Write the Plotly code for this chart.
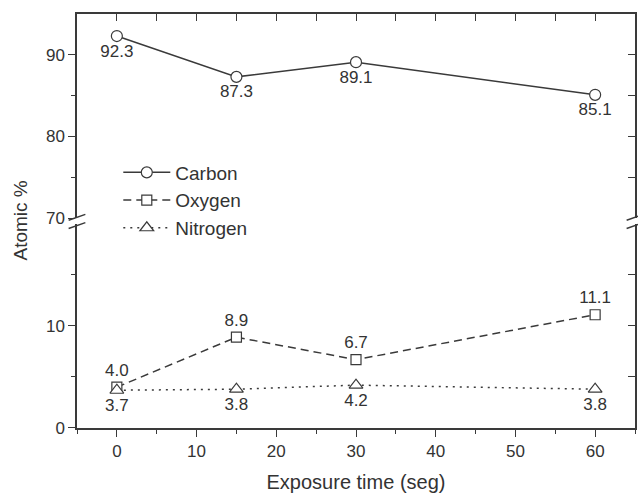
import plotly.graph_objects as go

time_s = [0, 15, 30, 60]
carbon = [92.3, 87.3, 89.1, 85.1]
oxygen = [4.0, 8.9, 6.7, 11.1]
nitrogen = [3.7, 3.8, 4.2, 3.8]

LINE = "#3a3a3a"
TXT = "#333333"
FONT = "Arial, Liberation Sans, sans-serif"

fig = go.Figure()

fig.add_trace(go.Scatter(
    x=time_s, y=carbon, name="Carbon", xaxis="x3", yaxis="y2",
    mode="lines+markers+text", text=[f"{v:.1f}" for v in carbon],
    textposition="bottom center", textfont=dict(size=17, color=TXT),
    line=dict(color=LINE, width=1.5, dash="solid"),
    marker=dict(symbol="circle", size=11, color="white", line=dict(color=LINE, width=1.2)),
))
fig.add_trace(go.Scatter(
    x=time_s, y=oxygen, name="Oxygen", xaxis="x", yaxis="y",
    mode="lines+markers+text", text=[f"{v:.1f}" for v in oxygen],
    textposition="top center", textfont=dict(size=17, color=TXT),
    line=dict(color=LINE, width=1.5, dash="8px,5px"),
    marker=dict(symbol="square", size=10, color="white", line=dict(color=LINE, width=1.2)),
))
fig.add_trace(go.Scatter(
    x=time_s, y=nitrogen, name="Nitrogen", xaxis="x", yaxis="y",
    mode="lines+markers+text", text=[f"{v:.1f}" for v in nitrogen],
    textposition="bottom center", textfont=dict(size=17, color=TXT),
    line=dict(color=LINE, width=1.5, dash="2px,5px"),
    marker=dict(symbol="triangle-up", size=12, color="white", line=dict(color=LINE, width=1.2)),
))

# invisible traces so the right-hand inside-tick axes are drawn
fig.add_trace(go.Scatter(x=[30], y=[80], xaxis="x3", yaxis="y4", mode="markers",
                         marker=dict(opacity=0), showlegend=False, hoverinfo="skip"))
fig.add_trace(go.Scatter(x=[30], y=[10], xaxis="x", yaxis="y3", mode="markers",
                         marker=dict(opacity=0), showlegend=False, hoverinfo="skip"))

LOW_TOP = 0.493
UP_BOT = 0.507

common = dict(showline=True, linecolor=LINE, linewidth=1.5, showgrid=False, zeroline=False,
              tickcolor=LINE, automargin=False, tickfont=dict(size=17, color=TXT, family=FONT))
mirror = dict(showline=False, showgrid=False, zeroline=False,
              ticks="inside", ticklen=7, tickwidth=1.2, tickcolor=LINE,
              showticklabels=False, automargin=False)

fig.update_layout(
    width=638, height=495,
    margin=dict(l=77, r=3, t=14, b=67),
    paper_bgcolor="white", plot_bgcolor="white",
    font=dict(family=FONT, color=TXT),
    showlegend=True,
    legend=dict(x=0.074, y=0.663, xanchor="left", yanchor="top",
                font=dict(size=19, color=TXT), bgcolor="rgba(0,0,0,0)",
                itemwidth=47, tracegroupgap=0),
    xaxis=dict(**common, range=[-5, 65], dtick=10, tick0=0, ticks="outside", ticklen=7,
               anchor="y", domain=[0, 1],
               minor=dict(dtick=5, ticks="outside", ticklen=4, tickcolor=LINE),
               title=dict(text="Exposure time (seg)", font=dict(size=20, color=TXT), standoff=15)),
    xaxis3=dict(showline=True, linecolor=LINE, linewidth=1.5, showgrid=False, zeroline=False,
                ticks="inside", ticklen=7, tickwidth=1.2, tickcolor=LINE,
                showticklabels=False, automargin=False,
                range=[-5, 65], dtick=5, tick0=0, matches="x",
                anchor="y2", side="top", domain=[0, 1]),
    yaxis=dict(**common, mirror=True, range=[0, 20], tickvals=[0, 10], ticks="outside", ticklen=7,
               domain=[0, LOW_TOP], anchor="x",
               minor=dict(tickvals=[5, 15], ticks="outside", ticklen=4, tickcolor=LINE)),
    yaxis2=dict(**common, mirror=True, range=[70, 95], tickvals=[70, 80, 90], ticks="outside", ticklen=7,
                domain=[UP_BOT, 1], anchor="x3",
                minor=dict(tickvals=[75, 85], ticks="outside", ticklen=4, tickcolor=LINE)),
    yaxis3=dict(**mirror, range=[0, 20], tickvals=[5, 10, 15],
                overlaying="y", side="right", anchor="x"),
    yaxis4=dict(**mirror, range=[70, 95], tickvals=[75, 80, 85, 90],
                overlaying="y2", side="right", anchor="x3"),
)

# axis break marks (decoration)
mid = (LOW_TOP + UP_BOT) / 2
for xc in (0, 1):
    for dy in (-0.011, 0.009):
        fig.add_shape(type="line", xref="paper", yref="paper",
                      x0=xc - 0.015, x1=xc + 0.015, y0=mid + dy - 0.007, y1=mid + dy + 0.007,
                      line=dict(color=LINE, width=1.5))

fig.add_annotation(text="Atomic %", xref="paper", yref="paper", x=-0.103, y=0.5,
                   textangle=-90, showarrow=False, font=dict(size=19, color=TXT),
                   xanchor="center", yanchor="middle")

# remove the page's default 8px body margin so the figure sits at the window origin
fig.write_html("out.html", config={"displayModeBar": False},
               post_script="document.body.style.margin='0';document.body.style.overflow='hidden';")
